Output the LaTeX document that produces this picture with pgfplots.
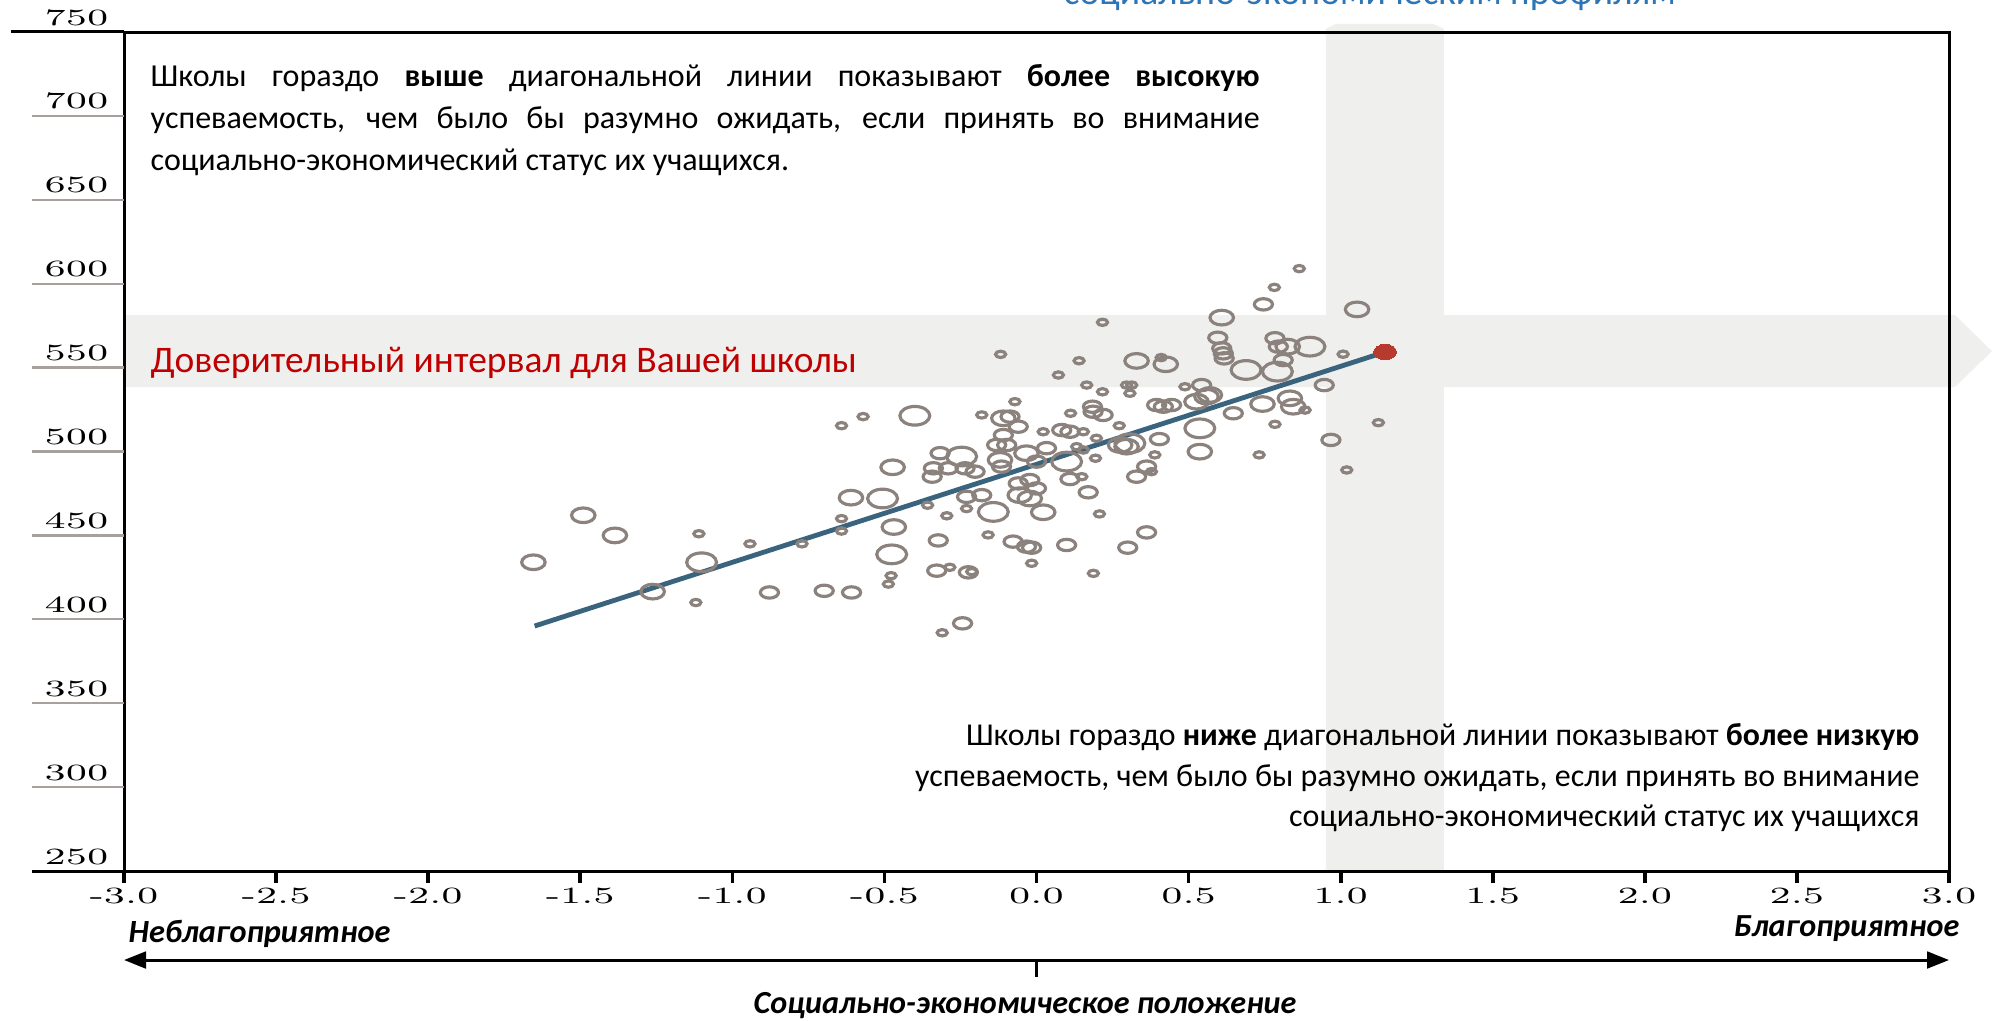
\documentclass[border=0pt]{standalone}
\usepackage{pgfplots}
\pgfplotsset{compat=1.18}
\usepackage{fontspec}
\usepackage{graphicx}
\usetikzlibrary{arrows.meta}
\newfontfamily\calib{Carlito}
\definecolor{circ}{RGB}{140,130,125}
\definecolor{linec}{RGB}{58,99,125}
\definecolor{reddot}{RGB}{183,58,46}
\definecolor{bandc}{RGB}{239,239,237}
\definecolor{tickgray}{RGB}{168,160,156}
\definecolor{redtxt}{RGB}{192,0,0}
\definecolor{titleblue}{RGB}{46,117,182}
\newcommand{\tl}[1]{\scalebox{1.6}[1]{\fontsize{7}{8}\selectfont #1}}
\begin{document}
\begin{tikzpicture}
\begin{axis}[
  at={(37.2pt,44.7pt)}, anchor=south west,
  scale only axis, width=547.5pt, height=251.7pt,
  xmin=-3, xmax=3, ymin=250, ymax=750,
  clip=false, axis on top,
  axis line style={line width=0.9pt, black},
  xtick={-3,-2.5,-2,-1.5,-1,-0.5,0,0.5,1,1.5,2,2.5,3},
  xticklabels={\tl{-3.0},\tl{-2.5},\tl{-2.0},\tl{-1.5},\tl{-1.0},\tl{-0.5},\tl{0.0},\tl{0.5},\tl{1.0},\tl{1.5},\tl{2.0},\tl{2.5},\tl{3.0}},
  xtick pos=left, ytick pos=left,
  tick align=outside, major tick length=3.6pt,
  xtick style={black, line width=1.1pt},
  xticklabel style={anchor=north, inner sep=0pt, yshift=-1.4pt},
  ytick={250,300,350,400,450,500,550,600,650,700,750},
  yticklabels={\tl{250},\tl{300},\tl{350},\tl{400},\tl{450},\tl{500},\tl{550},\tl{600},\tl{650},\tl{700},\tl{750}},
  ytick style={draw=none},
  yticklabel style={anchor=base east, inner sep=0pt, xshift=-0.9pt, yshift=2.1pt},
]
% bands
\fill[bandc] (axis cs:0.951,250) -- (axis cs:0.951,752) -- (axis cs:0.985,754.8) -- (axis cs:1.305,754.8) -- (axis cs:1.339,752) -- (axis cs:1.339,250) -- cycle;
\fill[bandc] (axis cs:-3,538.4) -- (axis cs:3.02,538.4) -- (axis cs:3.141,559.85) -- (axis cs:3.02,581.3) -- (axis cs:-3,581.3) -- cycle;
% small circles
\addplot[only marks, mark=o, mark size=0.95pt, mark options={draw=circ, line width=0.95pt, xscale=1.6}] table {
x y
-1.110 451
-1.120 410
-0.942 445
-0.771 445
-0.641 460
-0.641 452.6
-0.478 426
-0.487 421
-0.358 468
-0.295 461.7
-0.310 392
-0.641 515.4
-0.570 520.8
0.864 609
0.782 597.8
0.217 577
1.008 558
-0.118 557.9
0.140 554.1
0.410 556
0.072 545.6
0.165 539.6
0.217 535.6
0.296 539.6
0.313 539.6
0.307 534.7
0.488 538.6
-0.071 529.7
-0.180 521.8
0.022 511.8
0.154 511.8
0.112 522.8
0.272 515.4
0.883 524.7
0.784 516.2
1.124 517.2
0.732 498
0.132 502.9
0.154 500.9
0.197 507.9
0.389 498
1.020 489
0.378 488
0.207 462.8
0.187 427.4
-0.016 433.4
-0.159 450.3
-0.213 428.4
-0.285 431
-0.230 466
0.149 485
0.194 496
};
% medium circles
\addplot[only marks, mark=o, mark size=1.7pt, mark options={draw=circ, line width=0.95pt, xscale=1.6}] table {
x y
-0.878 416
-0.698 417
-0.608 416
-0.343 485
-0.339 490
-0.323 447
-0.328 429
-0.317 499
0.746 587.7
0.596 567.8
0.784 567.5
0.795 562.5
0.609 561.5
0.614 558.5
0.617 555.5
0.811 554.5
0.946 539.6
0.543 539.6
-0.087 520.8
-0.060 514.8
-0.109 509.8
-0.131 503.9
-0.098 503.9
0.083 512.8
0.110 511.8
0.184 526.7
0.186 523.7
0.219 521.8
0.395 527.7
0.417 526.7
0.444 527.7
0.647 522.8
0.968 506.9
0.404 507.4
0.033 502
0.362 491
0.329 485
0.170 475.7
0.362 451.8
0.300 442.7
0.099 444.3
-0.016 442.7
-0.033 443.3
-0.077 446.3
-0.224 428
-0.243 397.6
-0.230 473
-0.180 474
0.110 483.6
-0.022 483
0.000 478
-0.060 481
-0.115 491
-0.235 490
-0.202 488
0.000 494
-0.290 490
};
% large circles
\addplot[only marks, mark=o, mark size=2.2pt, mark options={draw=circ, line width=0.95pt, xscale=1.6}] table {
x y
-1.654 434
-1.490 462
-1.386 450
-1.262 416.5
-0.610 472.5
-0.473 490.6
-0.469 455
1.054 584.7
0.609 579.8
0.826 562.5
0.329 554
0.425 552
0.570 533.7
-0.109 519.8
0.526 529.7
0.559 532.7
0.743 528.3
0.833 531.7
0.844 526.7
0.537 499.9
-0.033 499
0.275 503.9
0.296 502.9
0.022 463.8
-0.022 472
-0.055 474
-0.120 495
};
% extra large circles
\addplot[only marks, mark=o, mark size=2.8pt, mark options={draw=circ, line width=0.95pt, xscale=1.6}] table {
x y
-1.101 434
-0.506 472
-0.476 438.7
-0.400 521.3
0.899 562.5
0.689 548.6
0.792 547.6
0.537 513.8
0.307 504.9
-0.246 497
-0.142 464
0.099 494
};
% regression line and school
\addplot[linec, line width=1.45pt, no marks] coordinates {(-1.65,396) (1.146,559.3)};
\addplot[only marks, mark=*, mark size=2.3pt, mark options={fill=reddot, draw=reddot, line width=0pt, xscale=1.5}] coordinates {(1.146,559.3)};
\end{axis}
\begin{scope}[x=0.3pt,y=-0.3pt,shift={(0,306pt)}]
% y tick lines
\foreach \v in {300,350,400,450,500,550,600,650,700} {
  \draw[tickgray, line width=0.7pt] (32,{32+(750-\v)*1.678}) -- (124,{32+(750-\v)*1.678});
}
\draw[black, line width=0.9pt] (11,32) -- (124,32);
\draw[black, line width=0.9pt] (32,871) -- (124,871);
\node[anchor=base west, inner sep=0pt, font=\calib\fontsize{11.3}{14}\selectfont, text=titleblue] at (1063,5) {социально-экономическим профилям};
\node[anchor=base west, inner sep=0pt, font=\calib\fontsize{9.6}{12}\selectfont] at (150,87) {\makebox[332.7pt][s]{Школы гораздо \textbf{выше} диагональной линии показывают \textbf{более высокую}}};
\node[anchor=base west, inner sep=0pt, font=\calib\fontsize{9.6}{12}\selectfont] at (150,128.5) {\makebox[332.7pt][s]{успеваемость, чем было бы разумно ожидать, если принять во внимание}};
\node[anchor=base west, inner sep=0pt, font=\calib\fontsize{9.6}{12}\selectfont] at (150,170) {социально-экономический статус их учащихся.};
\node[anchor=base west, inner sep=0pt, font=\calib\fontsize{11.25}{14}\selectfont, text=redtxt] at (150,372) {Доверительный интервал для Вашей школы};
\node[anchor=base east, inner sep=0pt, font=\calib\fontsize{9.55}{12}\selectfont] at (1920,745) {Школы гораздо \textbf{ниже} диагональной линии показывают \textbf{более низкую}};
\node[anchor=base east, inner sep=0pt, font=\calib\fontsize{9.6}{12}\selectfont] at (1920,786) {успеваемость, чем было бы разумно ожидать, если принять во внимание};
\node[anchor=base east, inner sep=0pt, font=\calib\fontsize{9.6}{12}\selectfont] at (1920,826) {социально-экономический статус их учащихся};
\node[anchor=base west, inner sep=0pt, font=\calib\bfseries\itshape\fontsize{9.7}{12}\selectfont] at (128,942) {Неблагоприятное};
\node[anchor=base east, inner sep=0pt, font=\calib\bfseries\itshape\fontsize{9.65}{12}\selectfont] at (1960,936) {Благоприятное};
\node[anchor=base, inner sep=0pt, font=\calib\bfseries\itshape\fontsize{9.65}{12}\selectfont] at (1025,1013) {Социально-экономическое положение};
\draw[line width=0.9pt, {Triangle[length=6.6pt,width=5pt]}-{Triangle[length=6.6pt,width=5pt]}] (124,960) -- (1949,960);
\draw[line width=0.9pt] (1036,960) -- (1036,977);
\end{scope}
\pgfresetboundingbox
\path[use as bounding box] (0,0) rectangle (600pt,306pt);
\end{tikzpicture}
\end{document}
